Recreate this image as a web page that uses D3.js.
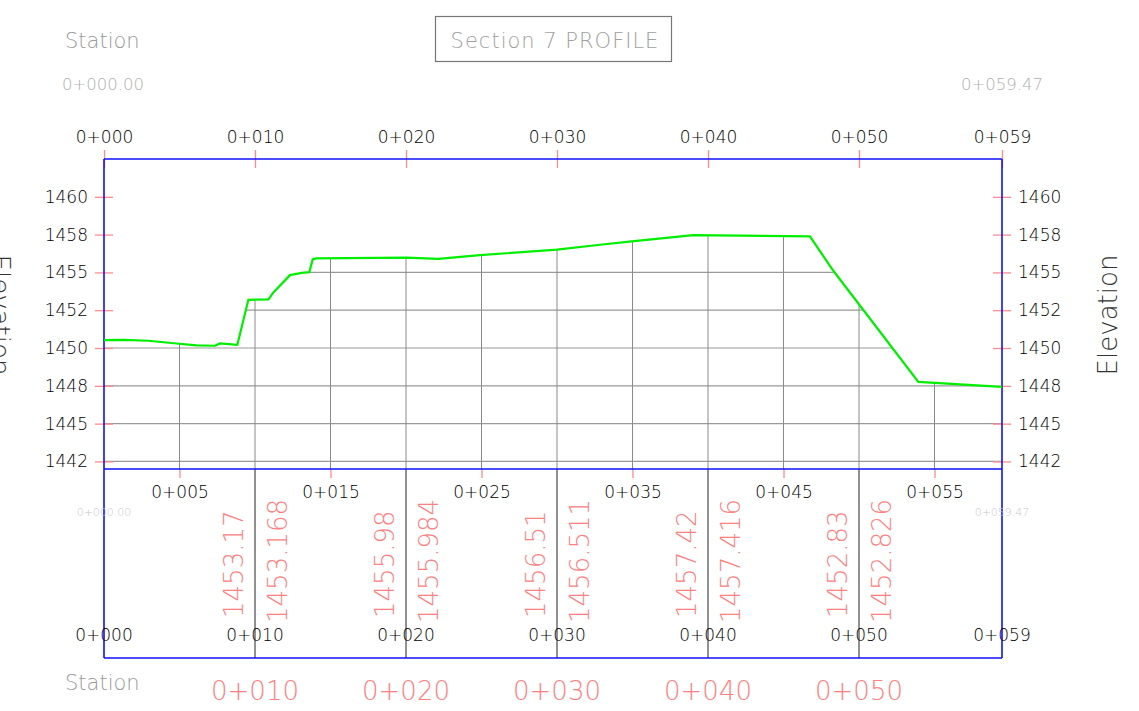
<!DOCTYPE html>
<html>
<head>
<meta charset="utf-8">
<script src="https://cdn.jsdelivr.net/npm/d3@7"></script>
<style>
  body { margin: 0; background: #fff; }
  svg text { font-family: "DejaVu Sans", sans-serif; font-weight: 200; }
</style>
</head>
<body>
<div class="chart-container"></div>
<script>
// profile ground line (station in m, elevation)
var stations = [0, 1.32, 2.93, 4.81, 6.13, 7.35, 7.68, 8.83, 9.56, 10.89, 11.22, 12.32, 13.09, 13.6, 13.82, 14.04,
                20.04, 22.14, 24.9, 30, 32.85, 34.95, 39.03, 46.75, 48.3, 53.93, 59.47];
var elevations = [1450.52, 1450.54, 1450.48, 1450.30, 1450.17, 1450.15, 1450.30, 1450.21, 1453.19, 1453.21, 1453.68,
                  1454.82, 1454.97, 1455.02, 1455.86, 1455.93, 1455.98, 1455.90, 1456.14, 1456.51, 1456.83, 1457.05,
                  1457.47, 1457.38, 1455.11, 1447.76, 1447.43];

var majorStations = [0, 10, 20, 30, 40, 50, 59.47];
var minorStations = [5, 15, 25, 35, 45, 55];
var elevTicks = [1442.5, 1445, 1447.5, 1450, 1452.5, 1455, 1457.5, 1460];
var elevTickLabels = ["1442", "1445", "1448", "1450", "1452", "1455", "1458", "1460"];

// data band
var bandStations = [10, 20, 30, 40, 50];
var egLabels = ["1453.17", "1455.98", "1456.51", "1457.42", "1452.83"];
var fgLabels = ["1453.168", "1455.984", "1456.511", "1457.416", "1452.826"];

var startLabel = "0+000.00", endLabel = "0+059.47";
var title = "Section 7 PROFILE";

var W = 1139, H = 711;
var xLeft = 104, xRight = 1002, yTop = 159, yMid = 469, yBottom = 658;

var x = d3.scaleLinear().domain([0, 59.47]).range([xLeft, xRight]);
var y = d3.scaleLinear().domain([1442, 1462.5]).range([yMid, yTop]);

function sta(d) { return "0+" + String(Math.floor(d)).padStart(3, "0"); }

var svg = d3.select(".chart-container").append("svg")
    .attr("width", W).attr("height", H);

var pts = stations.map(function(s, i) { return {s: s, e: elevations[i]}; });

// clip: area under the ground line
svg.append("defs").append("clipPath").attr("id", "under")
  .append("path")
    .attr("d", d3.area().x(function(d) { return x(d.s); })
        .y0(yMid).y1(function(d) { return y(d.e); })(pts));

var grid = svg.append("g").attr("clip-path", "url(#under)");
grid.selectAll("line.h").data(elevTicks).enter().append("line")
    .attr("x1", xLeft).attr("x2", xRight)
    .attr("y1", function(d) { return y(d); }).attr("y2", function(d) { return y(d); })
    .style("stroke", "#9a9a9a").style("stroke-width", 1.2);
grid.selectAll("line.v").data(d3.range(5, 59, 5)).enter().append("line")
    .attr("x1", function(d) { return x(d); }).attr("x2", function(d) { return x(d); })
    .attr("y1", yTop).attr("y2", yMid)
    .style("stroke", "#8a8a8a").style("stroke-width", 1);

// band verticals
svg.selectAll("line.band").data(bandStations).enter().append("line")
    .attr("x1", function(d) { return x(d); }).attr("x2", function(d) { return x(d); })
    .attr("y1", yMid).attr("y2", yBottom)
    .style("stroke", "#222").style("stroke-width", 1);

// axes
function styleAxis(g, color, size) {
  g.select(".domain").remove();
  g.selectAll(".tick line").style("stroke", "#ff8a8a").style("stroke-width", 1.3);
  g.selectAll(".tick text").style("fill", color).style("font-size", size + "px");
}

svg.append("g").attr("transform", "translate(0," + (yTop + 9) + ")")
    .call(d3.axisTop(x).tickValues(majorStations).tickFormat(sta).tickSize(18).tickPadding(7))
    .call(styleAxis, "#000", 17);

svg.append("g").attr("transform", "translate(0," + yMid + ")")
    .call(d3.axisBottom(x).tickValues(minorStations).tickFormat(sta).tickSize(9).tickPadding(8))
    .call(styleAxis, "#000", 17);

svg.append("g").attr("transform", "translate(" + (xLeft + 9) + ",0)")
    .call(d3.axisLeft(y).tickValues(elevTicks).tickFormat(function(d, i) { return elevTickLabels[i]; })
        .tickSize(18).tickPadding(7))
    .call(styleAxis, "#000", 17);

svg.append("g").attr("transform", "translate(" + (xRight - 9) + ",0)")
    .call(d3.axisRight(y).tickValues(elevTicks).tickFormat(function(d, i) { return elevTickLabels[i]; })
        .tickSize(18).tickPadding(7))
    .call(styleAxis, "#000", 17);

// frames
var blue = "#1010ff";
[[xLeft, yTop, xRight, yTop], [xLeft, yMid, xRight, yMid], [xLeft, yBottom, xRight, yBottom],
 [xLeft, yTop, xLeft, yBottom], [xRight, yTop, xRight, yBottom]].forEach(function(l) {
  svg.append("line").attr("x1", l[0]).attr("y1", l[1]).attr("x2", l[2]).attr("y2", l[3])
     .style("stroke", blue).style("stroke-width", 1.6);
});

// ground line
svg.append("path").datum(pts)
    .attr("d", d3.line().x(function(d) { return x(d.s); }).y(function(d) { return y(d.e); }))
    .style("fill", "none").style("stroke", "#00ee00").style("stroke-width", 2.2);

// band texts
svg.selectAll("text.eg").data(bandStations).enter().append("text")
    .attr("transform", function(d) { return "translate(" + (x(d) - 12) + ",618) rotate(-90)"; })
    .style("font-size", "26px").style("fill", "#ff8080")
    .text(function(d, i) { return egLabels[i]; });
svg.selectAll("text.fg").data(bandStations).enter().append("text")
    .attr("transform", function(d) { return "translate(" + (x(d) + 32) + ",623) rotate(-90)"; })
    .style("font-size", "26px").style("fill", "#ff8080")
    .text(function(d, i) { return fgLabels[i]; });

svg.selectAll("text.bst").data([0, 10, 20, 30, 40, 50, 59.47]).enter().append("text")
    .attr("x", function(d) { return x(d); }).attr("y", 641)
    .attr("text-anchor", "middle").style("font-size", "17px").style("fill", "#000")
    .text(sta);

svg.selectAll("text.big").data(bandStations).enter().append("text")
    .attr("x", function(d) { return x(d); }).attr("y", 700)
    .attr("text-anchor", "middle").style("font-size", "26px").style("fill", "#ff8080")
    .text(sta);

svg.append("text").attr("x", x(0)).attr("y", 516).attr("text-anchor", "middle")
    .style("font-size", "11px").style("fill", "#c8c8c8").text(startLabel);
svg.append("text").attr("x", x(59.47)).attr("y", 516).attr("text-anchor", "middle")
    .style("font-size", "11px").style("fill", "#c8c8c8").text(endLabel);

// header
svg.append("text").attr("x", 65).attr("y", 48).style("font-size", "21px").style("fill", "#999").text("Station");
svg.append("text").attr("x", 65).attr("y", 690).style("font-size", "21px").style("fill", "#999").text("Station");
svg.append("text").attr("x", 103).attr("y", 90).attr("text-anchor", "middle")
    .style("font-size", "16.5px").style("fill", "#b0b0b0").text(startLabel);
svg.append("text").attr("x", 1002).attr("y", 90).attr("text-anchor", "middle")
    .style("font-size", "16.5px").style("fill", "#b0b0b0").text(endLabel);

svg.append("rect").attr("x", 435.5).attr("y", 16.5).attr("width", 236).attr("height", 45)
    .style("fill", "none").style("stroke", "#777").style("stroke-width", 1.2);
svg.append("text").attr("x", 555).attr("y", 48).attr("text-anchor", "middle")
    .style("font-size", "21px").style("letter-spacing", "1px").style("fill", "#a0a0a0").text(title);

svg.append("text").attr("transform", "translate(1117,315) rotate(-90)").attr("text-anchor", "middle")
    .style("font-size", "26px").style("fill", "#333").text("Elevation");
svg.append("text").attr("transform", "translate(-9,315) rotate(90)").attr("text-anchor", "middle")
    .style("font-size", "26px").style("fill", "#333").text("Elevation");
</script>
</body>
</html>
